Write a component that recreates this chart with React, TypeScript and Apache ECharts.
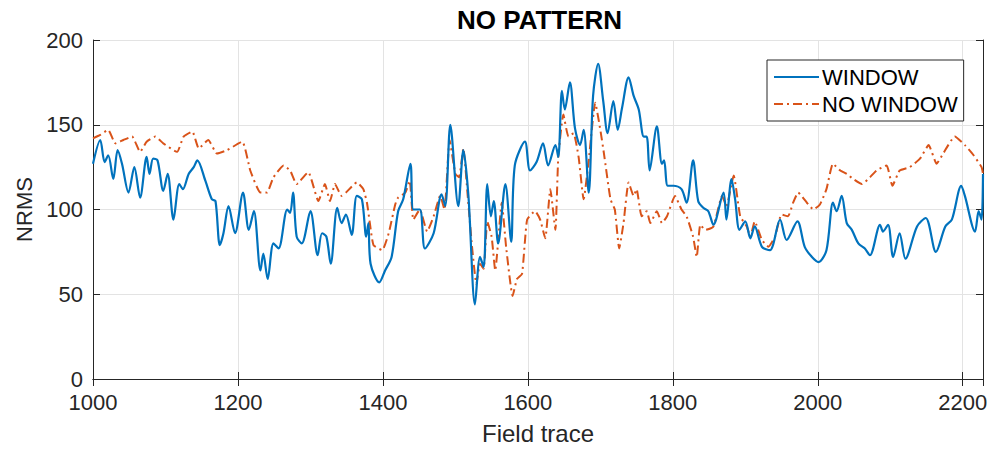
import React, { useEffect, useRef } from "react";
import * as echarts from "echarts";

const TITLE = "NO PATTERN";
const X_NAME = "Field trace";
const Y_NAME = "NRMS";
const SERIES_NAMES = ["WINDOW", "NO WINDOW"];

const windowX = [1000,1010,1016,1021,1028,1034,1040,1049,1057,1065,1074,1078,1083,1089,1097,1103,1111,1119,1124,1132,1139,1144,1155,1164,1169,1175,1180,1187,1196,1207,1215,1222,1231,1235,1241,1249,1256,1268,1272,1276,1281,1288,1300,1310,1316,1322,1328,1337,1343,1349,1357,1364,1371,1377,1380,1383,1395,1403,1412,1421,1428,1438,1442,1451,1458,1470,1481,1486,1493,1504,1511,1518,1527,1534,1539,1544,1549,1553,1559,1569,1577,1582,1596,1603,1612,1621,1628,1638,1642,1647,1651,1658,1665,1672,1677,1684,1690,1697,1704,1710,1718,1724,1730,1739,1746,1753,1760,1764,1768,1778,1785,1788,1793,1801,1812,1819,1828,1835,1842,1849,1856,1870,1874,1881,1886,1892,1900,1907,1913,1923,1934,1948,1957,1972,1982,1992,2001,2012,2021,2026,2033,2040,2047,2056,2065,2072,2086,2090,2097,2104,2113,2121,2137,2149,2163,2176,2185,2198,2203,2217,2222,2226,2228];
const windowY = [127,141,128,132,118,135,127,110,125,107,131,121,130,129,111,121,94,115,112,121,125,129,117,106,105,79,86,102,86,110,88,99,64,74,59,80,77,100,98,110,84,80,99,73,86,84,68,101,92,97,85,108,106,84,92,68,57,64,72,99,106,127,100,100,77,86,109,102,150,102,135,108,44,72,66,115,96,105,80,115,81,126,140,123,128,139,126,138,131,170,159,175,148,138,147,110,167,186,164,145,164,147,160,178,167,159,143,143,123,149,127,129,114,114,112,104,129,105,101,99,91,110,94,118,106,88,93,83,90,78,76,94,82,93,78,72,69,76,104,99,108,92,88,80,77,73,91,87,91,72,86,71,90,95,75,90,94,114,108,87,99,94,121];

const noWindowX = [1000,1010,1021,1031,1042,1054,1065,1074,1086,1097,1116,1125,1137,1146,1159,1171,1185,1206,1217,1231,1240,1249,1263,1272,1281,1297,1311,1320,1327,1334,1343,1349,1364,1373,1378,1382,1387,1399,1408,1417,1421,1431,1437,1442,1451,1461,1470,1479,1485,1492,1500,1505,1511,1517,1523,1529,1534,1539,1544,1550,1555,1564,1570,1579,1585,1592,1599,1610,1617,1624,1631,1638,1642,1649,1656,1663,1670,1677,1684,1693,1700,1705,1714,1720,1726,1732,1739,1746,1750,1757,1764,1769,1778,1785,1792,1803,1812,1819,1828,1833,1838,1845,1856,1868,1874,1884,1893,1902,1907,1913,1923,1932,1941,1950,1959,1966,1973,1985,1994,2003,2012,2021,2031,2040,2049,2061,2072,2081,2095,2103,2113,2127,2141,2153,2164,2173,2189,2203,2215,2226,2228];
const noWindowY = [142,144,147,139,141,143,134,140,143,139,134,143,146,136,141,133,135,140,123,110,110,119,126,123,115,122,105,115,105,115,108,110,116,112,104,92,79,76,86,103,107,110,117,94,100,87,96,108,100,141,121,119,136,108,78,56,68,65,93,84,64,104,78,49,59,62,94,99,94,83,112,88,131,156,143,145,131,106,129,163,147,133,106,100,77,92,116,108,112,96,99,92,99,92,96,108,100,96,84,72,91,88,90,108,102,120,96,90,84,93,82,78,84,97,96,104,110,104,100,103,112,127,123,121,118,115,119,123,126,114,123,125,130,138,127,133,143,138,132,125,121];

const X_MIN = 1000;
const X_MAX = 2228;
const X_STEP = 200;
const Y_MIN = 0;
const Y_MAX = 200;
const Y_STEP = 50;

const FONT = "'Liberation Sans', Arial, Helvetica, sans-serif";
const TEXT = "#262626";
const AXIS = "#262626";
const GRIDC = "#e3e3e3";
const BLUE = "#0072BD";
const ORANGE = "#D95319";

export default function App() {
  const ref = useRef<HTMLDivElement>(null);
  useEffect(() => {
    if (!ref.current) return;
    const chart = echarts.init(ref.current, undefined, { renderer: "svg" });
    const pairs = (xs: number[], ys: number[]) => xs.map((x, i) => [x, ys[i]]);
    const hiddenAxisBase = {
      axisLine: { show: true, lineStyle: { color: AXIS, width: 1 } },
      axisTick: { show: true, inside: true, length: 7, lineStyle: { color: AXIS } },
      axisLabel: { show: false },
      splitLine: { show: false },
    };
    chart.setOption({
      animation: false,
      backgroundColor: "#ffffff",
      title: {
        text: TITLE,
        left: 452,
        top: 2,
        textStyle: { fontFamily: FONT, fontSize: 26, fontWeight: "bold", color: "#000" },
      },
      legend: {
        orient: "vertical",
        left: 767,
        top: 60,
        padding: [6, 6, 6, 6],
        itemGap: 5,
        itemWidth: 45,
        itemHeight: 14,
        borderColor: AXIS,
        borderWidth: 1,
        backgroundColor: "#fff",
        itemStyle: { opacity: 0, borderWidth: 0 },
        textStyle: { fontFamily: FONT, fontSize: 22, color: "#000", padding: [0, 0, 0, -2] },
        data: SERIES_NAMES,
      },
      grid: { left: 93, right: 12, top: 40, bottom: 75, containLabel: false },
      xAxis: [
        {
          type: "value",
          min: X_MIN,
          max: X_MAX,
          interval: X_STEP,
          name: X_NAME,
          nameLocation: "middle",
          nameGap: 42,
          nameTextStyle: { fontFamily: FONT, fontSize: 24, color: TEXT },
          axisLine: { show: true, onZero: false, lineStyle: { color: AXIS, width: 1 } },
          axisTick: { show: true, inside: true, length: 7, lineStyle: { color: AXIS } },
          axisLabel: {
            fontFamily: FONT,
            fontSize: 22,
            color: TEXT,
            margin: 12,
            showMaxLabel: false,
            formatter: (v: number) => String(v),
          },
          splitLine: { show: true, lineStyle: { color: GRIDC, width: 1 } },
        },
        { type: "value", position: "top", min: X_MIN, max: X_MAX, interval: X_STEP, ...hiddenAxisBase },
      ],
      yAxis: [
        {
          type: "value",
          min: Y_MIN,
          max: Y_MAX,
          interval: Y_STEP,
          name: Y_NAME,
          nameLocation: "middle",
          nameGap: 56,
          nameTextStyle: { fontFamily: FONT, fontSize: 22, color: TEXT },
          axisLine: { show: true, lineStyle: { color: AXIS, width: 1 } },
          axisTick: { show: true, inside: true, length: 7, lineStyle: { color: AXIS } },
          axisLabel: { fontFamily: FONT, fontSize: 22, color: TEXT, margin: 10 },
          splitLine: { show: true, lineStyle: { color: GRIDC, width: 1 } },
        },
        { type: "value", position: "right", min: Y_MIN, max: Y_MAX, interval: Y_STEP, ...hiddenAxisBase },
      ],
      series: [
        {
          name: SERIES_NAMES[0],
          type: "line",
          data: pairs(windowX, windowY),
          symbol: "none",
          smooth: 0.3,
          lineStyle: { color: BLUE, width: 2.2 },
          itemStyle: { color: BLUE },
          z: 3,
        },
        {
          name: SERIES_NAMES[1],
          type: "line",
          data: pairs(noWindowX, noWindowY),
          symbol: "none",
          smooth: 0.15,
          lineStyle: { color: ORANGE, width: 2, type: [9, 4, 2, 4] },
          itemStyle: { color: ORANGE },
          z: 2,
        },
      ],
    });
    return () => chart.dispose();
  }, []);
  return <div ref={ref} style={{ width: 995, height: 454, position: "absolute", left: 0, top: 0 }} />;
}
